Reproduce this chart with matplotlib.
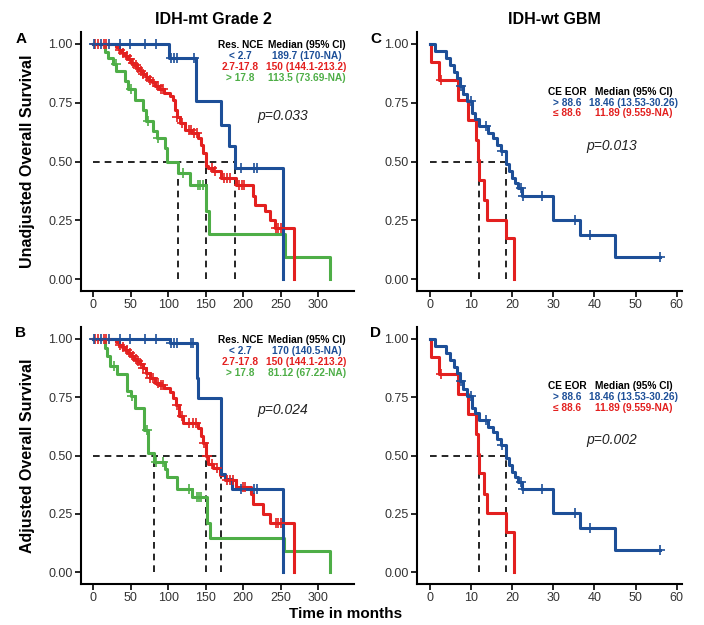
import matplotlib
matplotlib.use('Agg')
import matplotlib.pyplot as plt
import numpy as np

plt.rcParams['font.family'] = ['Liberation Sans', 'DejaVu Sans']

# ---------------- data ----------------
# Panel A (IDH-mt Grade 2, unadjusted)
blue_A_t = [101, 137, 171, 181, 189.7, 253]
blue_A_s = [0.94, 0.756, 0.655, 0.567, 0.472, 0.0]
blue_A_c = [1, 10, 21, 36, 49, 69, 84, 104, 108, 112, 134, 197, 215, 219]

red_A_t = [30, 34, 38, 42, 46, 50, 54, 58, 62, 66, 70, 74, 78, 83, 88, 95, 102, 107, 109, 112,
           116, 122, 132, 140, 144, 147, 150, 153, 160, 171, 191, 213, 216, 229, 235.5, 242, 267]
red_A_s = [0.985, 0.972, 0.96, 0.948, 0.935, 0.92, 0.91, 0.897, 0.884, 0.872, 0.86, 0.848, 0.836,
           0.82, 0.806, 0.79, 0.777, 0.763, 0.72, 0.69, 0.665, 0.635, 0.621, 0.60, 0.57, 0.536,
           0.48, 0.472, 0.458, 0.43, 0.40, 0.352, 0.316, 0.288, 0.252, 0.217, 0.0]
red_A_c = [3, 6, 14, 17, 36, 40, 45, 49, 53, 57, 60, 64, 67, 72, 76, 80, 86, 90, 93, 112, 118,
           128, 131, 135, 138, 158, 163, 175, 178, 182, 195, 199, 201, 244, 247, 250]

green_A_t = [16, 20, 26, 31, 42, 47, 56, 67, 71, 80, 85, 96, 98, 113.5, 129, 150, 155, 256, 316]
green_A_s = [0.965, 0.94, 0.915, 0.884, 0.841, 0.806, 0.763, 0.72, 0.671, 0.628, 0.60, 0.557,
             0.50, 0.45, 0.40, 0.288, 0.19, 0.095, 0.0]
green_A_c = [30, 50, 73.5, 86, 120, 140, 142, 146]

# Panel B (IDH-mt Grade 2, adjusted)
blue_B_t = [102, 138, 140, 170, 176, 185, 253]
blue_B_s = [0.982, 0.83, 0.747, 0.42, 0.40, 0.357, 0.0]
blue_B_c = [1, 10, 21, 36, 49, 69, 84, 104, 108, 112, 130, 133, 197, 215, 219]

red_B_t = [30, 34, 38, 43, 47, 51, 55, 59, 63, 67, 71, 76, 82, 88, 95, 102, 107, 111, 114, 120,
           140, 144, 147, 150, 153, 160, 169, 176, 191, 211, 213, 226.5, 235.5, 267]
red_B_s = [0.985, 0.975, 0.965, 0.95, 0.94, 0.927, 0.915, 0.903, 0.891, 0.873, 0.855, 0.833,
           0.812, 0.80, 0.79, 0.77, 0.747, 0.718, 0.668, 0.639, 0.617, 0.585, 0.552, 0.50,
           0.465, 0.445, 0.415, 0.393, 0.364, 0.335, 0.292, 0.249, 0.213, 0.0]
red_B_c = [3, 6, 14, 17, 36, 40, 45, 49, 53, 57, 60, 64, 67, 72, 76, 80, 86, 90, 93, 112, 118,
           128, 133, 137, 148, 152, 158, 165, 178, 182, 186, 200, 203, 244, 247, 250]

green_B_t = [16, 18, 22, 31.4, 44.7, 50, 55.8, 68.2, 73.5, 81.12, 95.7, 98, 111.3, 131.3,
             151.3, 155.7, 255, 316]
green_B_s = [0.96, 0.927, 0.884, 0.848, 0.776, 0.754, 0.703, 0.61, 0.51, 0.473, 0.444, 0.408,
             0.357, 0.321, 0.213, 0.148, 0.09, 0.0]
green_B_c = [28, 52, 72, 84, 93, 128, 139, 141, 144]

# Panels C & D (IDH-wt GBM)
blue_C_t = [1.2, 3.8, 4.9, 5.7, 6.5, 7.3, 8.1, 8.9, 10.1, 10.9, 11.8, 14.2, 15.4, 16.2, 17.3,
            18.46, 19.1, 19.9, 20.7, 21.5, 22.3, 30.0, 36.5, 45.0]
blue_C_s = [0.97, 0.94, 0.91, 0.88, 0.855, 0.82, 0.785, 0.755, 0.705, 0.68, 0.65, 0.62, 0.60,
            0.572, 0.543, 0.49, 0.458, 0.43, 0.409, 0.387, 0.355, 0.252, 0.189, 0.095]
blue_C_c = [7.6, 10.0, 13.6, 17.6, 22.0, 22.6, 27.2, 35.3, 38.9, 56.0]
blue_C_end = 56.0

red_C_t = [0.3, 2.2, 6.9, 9.3, 11.2, 11.6, 12.0, 13.0, 13.8, 18.4, 20.3]
red_C_s = [0.923, 0.847, 0.762, 0.677, 0.592, 0.506, 0.423, 0.337, 0.252, 0.174, 0.0]
red_C_c = [2.6]

medians_A = [189.7, 150, 113.5]
medians_B = [170, 150, 81.12]
medians_C = [18.46, 11.89]

legend_A_groups = ['< 2.7', '2.7-17.8', '> 17.8']
legend_A_meds = ['189.7 (170-NA)', '150 (144.1-213.2)', '113.5 (73.69-NA)']
legend_B_meds = ['170 (140.5-NA)', '150 (144.1-213.2)', '81.12 (67.22-NA)']
legend_C_groups = ['> 88.6', '\u2264 88.6']
legend_C_meds = ['18.46 (13.53-30.26)', '11.89 (9.559-NA)']

pvals = ['p=0.033', 'p=0.024', 'p=0.013', 'p=0.002']
titles = ['IDH-mt Grade 2', 'IDH-wt GBM']
letters = ['A', 'B', 'C', 'D']

BLUE = '#1d4f98'
RED = '#e3201f'
GREEN = '#4eae47'

# ---------------- figure ----------------
fig = plt.figure(figsize=(7.04, 6.25), dpi=100)
axA = fig.add_axes([0.1153, 0.5344, 0.388, 0.4144])
axB = fig.add_axes([0.1153, 0.0656, 0.388, 0.4112])
axC = fig.add_axes([0.5923, 0.5344, 0.3759, 0.4144])
axD = fig.add_axes([0.5923, 0.0656, 0.3759, 0.4112])


def km(ax, times, surv, cens, color, end=None):
    x = [0.0] + list(times)
    y = [1.0] + list(surv)
    if end is not None:
        x.append(end)
        y.append(y[-1])
    ax.step(x, y, where='post', color=color, lw=2.2, zorder=3)
    allS = np.array([1.0] + list(surv))
    idx = np.searchsorted(np.asarray(times, float), np.asarray(cens, float), side='right')
    ax.plot(cens, allS[idx], ls='none', marker='+', ms=7, mew=1.2, color=color, zorder=4)


def med_lines(ax, meds):
    kw = dict(color='black', lw=1.2, ls=(0, (4, 3)), zorder=2)
    ax.plot([0, max(meds)], [0.5, 0.5], **kw)
    for m in meds:
        ax.plot([m, m], [0, 0.5], **kw)


def style(ax, xlim, xticks):
    ax.set_xlim(*xlim)
    ax.set_ylim(-0.05, 1.05)
    ax.set_xticks(xticks)
    ax.set_yticks([0, 0.25, 0.5, 0.75, 1.0])
    ax.set_yticklabels(['%.2f' % v for v in [0, 0.25, 0.5, 0.75, 1.0]])
    for s in ['top', 'right']:
        ax.spines[s].set_visible(False)
    for s in ['left', 'bottom']:
        ax.spines[s].set_linewidth(1.5)
    ax.tick_params(direction='out', length=4, width=1.2, labelsize=9,
                   labelcolor='#333333', pad=2)


LFS = 7.3

# Panels A / B
for ax, bt, bs, bc, rt, rs, rc, gt, gs, gc, meds, lmeds, p in [
        (axA, blue_A_t, blue_A_s, blue_A_c, red_A_t, red_A_s, red_A_c,
         green_A_t, green_A_s, green_A_c, medians_A, legend_A_meds, pvals[0]),
        (axB, blue_B_t, blue_B_s, blue_B_c, red_B_t, red_B_s, red_B_c,
         green_B_t, green_B_s, green_B_c, medians_B, legend_B_meds, pvals[1])]:
    med_lines(ax, meds)
    km(ax, gt, gs, gc, GREEN)
    km(ax, rt, rs, rc, RED)
    km(ax, bt, bs, bc, BLUE)
    style(ax, (-15.8, 348), range(0, 301, 50))
    x1, x2 = 196, 284.5
    ys = [0.995, 0.948, 0.901, 0.854]
    ax.text(x1, ys[0], 'Res. NCE', ha='center', va='center', fontsize=LFS,
            fontweight='bold')
    ax.text(x2, ys[0], 'Median (95% CI)', ha='center', va='center', fontsize=LFS,
            fontweight='bold')
    for g, m, c, y in zip(legend_A_groups, lmeds, [BLUE, RED, GREEN], ys[1:]):
        ax.text(x1, y, g, ha='center', va='center', fontsize=LFS, fontweight='bold', color=c)
        ax.text(x2, y, m, ha='center', va='center', fontsize=LFS, fontweight='bold', color=c)
    ax.text(252, 0.695, p, ha='center', va='center', fontsize=10, style='italic',
            color='#222222')

# Panels C / D
for ax, p in [(axC, pvals[2]), (axD, pvals[3])]:
    med_lines(ax, medians_C)
    km(ax, red_C_t, red_C_s, red_C_c, RED)
    km(ax, blue_C_t, blue_C_s, blue_C_c, BLUE, end=blue_C_end)
    style(ax, (-3.2, 61.2), range(0, 61, 10))
    x1, x2 = 33.3, 49.6
    ys = [0.796, 0.749, 0.704]
    ax.text(x1, ys[0], 'CE EOR', ha='center', va='center', fontsize=LFS,
            fontweight='bold')
    ax.text(x2, ys[0], 'Median (95% CI)', ha='center', va='center', fontsize=LFS,
            fontweight='bold')
    for g, m, c, y in zip(legend_C_groups, legend_C_meds, [BLUE, RED], ys[1:]):
        ax.text(x1, y, g, ha='center', va='center', fontsize=LFS, fontweight='bold', color=c)
        ax.text(x2, y, m, ha='center', va='center', fontsize=LFS, fontweight='bold', color=c)
    ax.text(44.3, 0.565, p, ha='center', va='center', fontsize=10, style='italic',
            color='#222222')

# Titles and labels
fig.text(0.3026, 0.9696, titles[0], ha='center', va='center', fontsize=11.5, fontweight='bold')
fig.text(0.787, 0.9696, titles[1], ha='center', va='center', fontsize=11.5, fontweight='bold')
for (x, y), L in zip([(0.0298, 0.9376), (0.0298, 0.4672), (0.534, 0.9376), (0.534, 0.4672)], letters):
    fig.text(x, y, L, ha='center', va='center', fontsize=11, fontweight='bold')
fig.text(0.0384, 0.5344 + 0.4144 / 2, 'Unadjusted Overall Survival', rotation=90,
         ha='center', va='center', fontsize=11.5, fontweight='bold')
fig.text(0.0384, 0.0656 + 0.4112 / 2, 'Adjusted Overall Survival', rotation=90,
         ha='center', va='center', fontsize=11.5, fontweight='bold')
fig.text(0.4915, 0.0176, 'Time in months', ha='center', va='center', fontsize=11,
         fontweight='bold')

fig.savefig('out.png', dpi=100)
